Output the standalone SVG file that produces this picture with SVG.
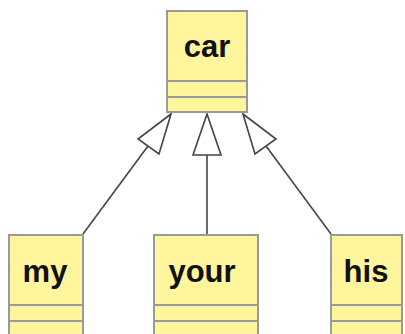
<svg xmlns="http://www.w3.org/2000/svg" width="405" height="334" viewBox="0 0 405 334">
  <style>
    .box { fill: #FFF59C; stroke: #9A9A9A; stroke-width: 2; }
    .sep { stroke: #9A9A9A; stroke-width: 2; }
    .name { font-family: "Liberation Sans", Arial, sans-serif; font-weight: bold; font-size: 31px; fill: #111; text-anchor: middle; }
    .edge { stroke: #444; stroke-width: 1.6; fill: none; }
    .head { fill: #fff; stroke: #444; stroke-width: 1.6; stroke-linejoin: miter; }
  </style>
  <rect width="405" height="334" fill="#fff"/>

  <g id="connectors">
    <!-- my -> car -->
    <line class="edge" x1="148" y1="146" x2="83" y2="234"/>
    <polygon class="head" points="171,114 138,139 159,154"/>
    <!-- your -> car -->
    <line class="edge" x1="207" y1="155" x2="207" y2="235"/>
    <polygon class="head" points="207,114 193,155 221,155"/>
    <!-- his -> car -->
    <line class="edge" x1="266" y1="146" x2="331" y2="234"/>
    <polygon class="head" points="243,114 276,139 255,154"/>
  </g>

  <g id="car">
    <rect class="box" x="167" y="11" width="80" height="101"/>
    <line class="sep" x1="167" y1="81" x2="247" y2="81"/>
    <line class="sep" x1="167" y1="97" x2="247" y2="97"/>
    <text class="name" x="207" y="57">car</text>
  </g>

  <g id="my">
    <rect class="box" x="9" y="235" width="74" height="110"/>
    <line class="sep" x1="9" y1="305" x2="83" y2="305"/>
    <line class="sep" x1="9" y1="321" x2="83" y2="321"/>
    <text class="name" x="45" y="282">my</text>
  </g>

  <g id="your">
    <rect class="box" x="154" y="235" width="104" height="110"/>
    <line class="sep" x1="154" y1="305" x2="258" y2="305"/>
    <line class="sep" x1="154" y1="321" x2="258" y2="321"/>
    <text class="name" x="202" y="282">your</text>
  </g>

  <g id="his">
    <rect class="box" x="331" y="235" width="71" height="110"/>
    <line class="sep" x1="331" y1="305" x2="402" y2="305"/>
    <line class="sep" x1="331" y1="321" x2="402" y2="321"/>
    <text class="name" x="366" y="282">his</text>
  </g>
</svg>
